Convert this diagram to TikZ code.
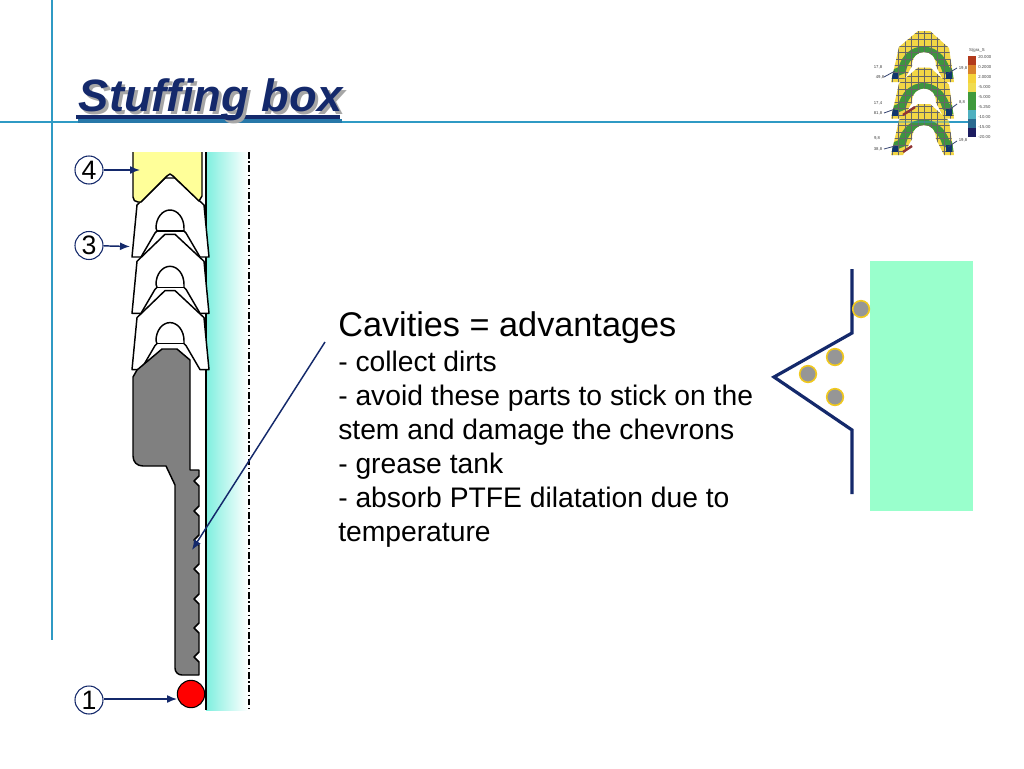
\documentclass[tikz,border=0pt]{standalone}
\usepackage{fontspec}
\setmainfont{Liberation Sans}
\usetikzlibrary{arrows.meta}
\definecolor{navy}{HTML}{14296B}
\definecolor{rule}{HTML}{2F9AC4}
\definecolor{aquaL}{HTML}{7FEFDF}
\definecolor{mint}{HTML}{99FFCC}
\definecolor{grit}{HTML}{969696}
\definecolor{gritE}{HTML}{F0C81E}
\definecolor{part}{HTML}{808080}
\definecolor{packY}{HTML}{FFFF99}
\definecolor{feY}{HTML}{F2D645}
\definecolor{feG}{HTML}{3E9440}
\tikzset{
 x=0.75pt,y=-0.75pt,
 pieceline/.style={draw=black,line width=1.1pt,line join=round},
 callout/.style={circle,draw=navy,line width=0.8pt,minimum size=21pt,inner sep=0pt,font=\fontsize{20}{20}\selectfont,fill=white},
 leader/.style={navy,line width=1.1pt,-{Latex[length=7.5pt,width=6pt]}},
 gritdot/.style={circle,fill=grit,draw=gritE,line width=1.2pt,minimum size=12.5pt,inner sep=0pt},
 bodytxt/.style={anchor=north west,align=left,inner sep=0pt,font=\fontsize{21.2}{25.5}\selectfont},
 tinytxt/.style={inner sep=0pt,font=\fontsize{3.2}{3.2}\selectfont,text=black!75},
 feleader/.style={navy!70!gray,line width=0.6pt},
}
\newcommand{\chev}[1]{%
 \begin{scope}[yshift=-0.75pt*#1]
 \path[pieceline,fill=white] (165,178) -- (175,178) -- (204,205) -- (209,257) -- (200,257) -- (186,233)
   -- (184,231) -- (184,228) arc[start angle=0,end angle=-180,x radius=14,y radius=18] -- (157,231) -- (155,233) -- (141,257) -- (132,257) -- (137,205) -- cycle;
 \draw[pieceline] (157,231) -- (184,231);
 \end{scope}}
\newcommand{\fechev}[1]{%
 \begin{scope}[yshift=-0.75pt*#1]
 \begin{scope}
 \clip (918,31) -- (930,31) -- (949,48) -- (954,82) -- (944,82) -- (936,66) .. controls (936,56) and (930,52) .. (924,52) .. controls (918,52) and (912,56) .. (912,66) -- (903,82) -- (891,82) -- (899,47) -- cycle;
 \fill[feY] (885,28) rectangle (960,84);
 \draw[feG,line width=6pt] (888,76) -- (902,70) .. controls (908,44) and (938,44) .. (946,70) -- (958,76);
 \foreach \gx in {892,898.5,...,956} {\draw[black!60,line width=0.4pt] (\gx,28) -- (\gx,84);}
 \foreach \gy in {33,39.5,...,84} {\draw[black!60,line width=0.4pt] (885,\gy) -- (960,\gy);}
 \fill[navy!85!teal] (892,73) rectangle (898,79);
 \fill[navy!85!teal] (946,72) rectangle (952,79);
 \end{scope}
 \end{scope}}
\begin{document}
\begin{tikzpicture}
\useasboundingbox (0,0) rectangle (1024,768);
\fill[white] (0,0) rectangle (1024,768);
% slide rules
\draw[rule,line width=0.8pt] (52,0) -- (52,640);
\draw[rule,line width=0.8pt] (0,122) -- (976,122);
% title
\fill[rule!70!navy] (78,119) rectangle (342,122.5);
\fill[navy] (76,115) rectangle (340,118.5);
\node[anchor=west,inner sep=0pt,font=\fontsize{34}{34}\selectfont\bfseries\itshape,text=black!35] at (81.5,102.5) {Stuffing box};
\node (title) [anchor=west,inner sep=0pt,font=\fontsize{34}{34}\selectfont\bfseries\itshape,text=navy] at (78.5,100) {Stuffing box};
% FE thumbnail
\fechev{0}\fechev{36.5}\fechev{73}
\draw[red!45!black!80,line width=1.8pt] (903,115) -- (915,107);
\draw[red!45!black!80,line width=1.8pt] (903,152) -- (912,146);
\draw[rule,opacity=0.45,line width=0.8pt] (885,122) -- (955,122);
\foreach \lx/\ly/\ltxt in {878/67/{17,8},880/77/{49,8},878/103/{17,4},878/113/{81,8},877/138/{9,8},878/149/{38,8},963/68/{19,8},962/102/{8,8},963/140/{19,8}}
 {\node[tinytxt] at (\lx,\ly) {\ltxt};}
\draw[feleader] (884,77) -- (895,71) (957,68) -- (947,74) (884,113) -- (895,109) (957,104) -- (949,110) (884,149) -- (895,146) (957,141) -- (948,147);
\foreach \k/\c in {0/B23A1C,1/D9822B,2/F5D33A,3/F0DC50,4/3F9A3C,5/3F9A3C,6/4FB0C0,7/2A6A90,8/1C1C60}
 {\definecolor{barc}{HTML}{\c}\fill[barc] (968,56+\k*9) rectangle (976,65+\k*9);}
\node[tinytxt] at (977,50) {S(gra\_S};
\foreach \k/\v in {0/20.000,1/0.2000,2/2.0000,3/-5.000,4/-5.000,5/-5.250,6/-10.00,7/-15.00,8/-20.00}
 {\node[tinytxt,anchor=west] at (978,57+\k*10) {\v};}
% stem
\shade[left color=aquaL,right color=white] (206,152) rectangle (248,710);
\draw[black,line width=1.1pt] (206,152) -- (206,710);
\draw[black,line width=0.9pt,dash pattern=on 5pt off 2pt on 1pt off 2pt] (249,152) -- (249,710);
% chevrons
\chev{0}\chev{56.3}\chev{112.6}
% yellow packing
\path[pieceline,fill=packY] (133,152) -- (133,197) .. controls (133,200) and (135,202) .. (138,202) -- (141,202) -- (167,176) -- (170,174) -- (173,176) -- (199,201) -- (202,196) -- (202,152);
% gray adapter
\path[pieceline,fill=part] (162,349) -- (177,349) -- (190,360) -- (190,470) -- (199,470)
 -- (199,476) -- (194,481) -- (199,486)
 -- (199,506) -- (194,511) -- (199,516)
 -- (199,535) -- (194,540) -- (199,545)
 -- (199,564) -- (194,569) -- (199,574)
 -- (199,594) -- (194,599) -- (199,604)
 -- (199,623) -- (194,628) -- (199,633)
 -- (199,652) -- (194,657) -- (199,662)
 -- (199,675) -- (182,675) .. controls (178,675) and (175,672) .. (175,668)
 -- (175,485) -- (166,466) -- (143,466) .. controls (137,466) and (133,462) .. (133,456)
 -- (133,377) -- (137,370) -- cycle;
% O-ring
\node (oring) [circle,draw=black,line width=0.8pt,fill=red,minimum size=20.5pt,inner sep=0pt] at (191,694) {};
% callouts
\node (c4) [callout] at (89,170) {4};
\node (c3) [callout] at (89,245.5) {3};
\node (c1) [callout] at (89,700) {1};
\coordinate (t4) at (140,170);
\coordinate (t3) at (130,246.5);
\coordinate (t1) at (177,699);
\draw[leader] (c4) -- (t4);
\draw[leader] (c3) -- (t3);
\draw[leader] (c1.east |- t1) -- (t1);
% cavity leader
\coordinate (lead0) at (325,342);
\coordinate (lead1) at (192,550);
\draw[leader] (lead0) -- (lead1);
% text
\node (txt) [bodytxt] at (338,311) {{\fontsize{25.7}{25.5}\selectfont Cavities = advantages}\\[0.8pt]- collect dirts\\- avoid these parts to stick on the\\stem and damage the chevrons\\- grease tank\\- absorb PTFE dilatation due to\\temperature};
% detail
\fill[mint] (870,261) rectangle (973,511);
\draw[navy,line width=2.4pt,line join=miter] (852,269) -- (852,333) -- (774,377) -- (852,430) -- (852,494);
\node (g1) [gritdot] at (861,309) {};
\node (g2) [gritdot] at (835,357) {};
\node (g3) [gritdot] at (808,374) {};
\node (g4) [gritdot] at (835,397) {};
\end{tikzpicture}
\end{document}
